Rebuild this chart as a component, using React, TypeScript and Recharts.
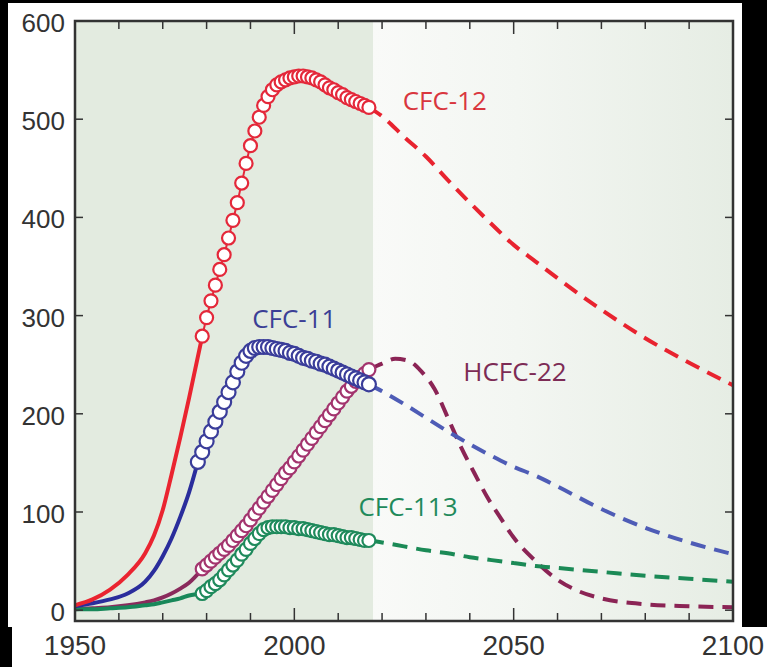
import React from 'react';
import { ComposedChart, Line, XAxis, YAxis, ReferenceArea, ReferenceDot } from 'recharts';

// years before the flask record (line only)
const histYears = [1950, 1954, 1958, 1962, 1966, 1968, 1970, 1972, 1974, 1976];
const cfc12Hist = [5, 11, 21, 36, 58, 76, 102, 138, 176, 216];
const cfc11Hist = [4, 7, 11, 17, 29, 40, 55, 73, 95, 120];
const hcfc22Hist = [1, 2, 3, 5, 8, 10, 13, 17, 22, 28];
const cfc113Hist = [1, 1, 2, 3, 5, 6, 8, 10, 12, 15];

// observations (circles)
const obsYears = [
  1978, 1979, 1980, 1981, 1982, 1983, 1984, 1985, 1986, 1987,
  1988, 1989, 1990, 1991, 1992, 1993, 1994, 1995, 1996, 1997,
  1998, 1999, 2000, 2001, 2002, 2003, 2004, 2005, 2006, 2007,
  2008, 2009, 2010, 2011, 2012, 2013, 2014, 2015, 2016, 2017,
];
const cfc11Obs = [
  151, 161, 172, 182, 192, 202, 212, 222, 232, 243,
  252, 259, 264, 267, 268, 268, 268, 267, 266, 265,
  264, 262, 261, 259, 257, 256, 254, 253, 251, 250,
  248, 246, 244, 242, 240, 238, 236, 234, 232, 230,
];
// these three start in 1979
const cfc12Obs = [
  279, 298, 315, 331, 347, 362, 379, 397, 415,
  435, 455, 473, 488, 502, 514, 523, 530, 535, 538,
  540, 542, 543, 544, 544, 543, 542, 540, 538, 535,
  532, 530, 527, 525, 522, 520, 518, 516, 514, 512,
];
const hcfc22Obs = [
  42, 46, 50, 54, 58, 62, 66, 71, 76,
  81, 86, 92, 98, 104, 110, 116, 122, 128, 134,
  140, 145, 151, 157, 163, 169, 175, 181, 187, 193,
  199, 205, 211, 217, 223, 228, 233, 237, 241, 245,
];
const cfc113Obs = [
  17, 20, 24, 27, 31, 36, 41, 46, 51,
  57, 62, 68, 73, 78, 82, 84, 85, 85, 85,
  85, 84, 84, 83, 83, 82, 81, 80, 79, 78,
  77, 77, 76, 75, 74, 74, 73, 72, 71, 71,
];

// projections (dashed)
const projYears = [2020, 2025, 2030, 2035, 2040, 2045, 2050, 2055, 2060, 2070, 2080, 2090, 2100];
const cfc12Proj = [503, 482, 462, 438, 415, 393, 372, 355, 338, 306, 277, 252, 229];
const cfc11Proj = [223, 210, 196, 182, 169, 157, 146, 137, 126, 103, 84, 69, 57];
const cfc113Proj = [69, 65, 61, 58, 54, 51, 48, 45, 43, 39, 35, 32, 29];
const hcfc22ProjYears = [2020, 2023, 2026, 2029, 2032, 2035, 2038, 2041, 2044, 2047, 2050, 2055, 2060, 2065, 2070, 2080, 2090, 2100];
const hcfc22Proj = [251, 256, 254, 243, 225, 196, 166, 140, 115, 94, 74, 50, 31, 19, 12, 6, 4, 3];

const xTicks = [1950, 1960, 1970, 1980, 1990, 2000, 2010, 2020, 2030, 2040, 2050, 2060, 2070, 2080, 2090, 2100];
const yTicks = [0, 100, 200, 300, 400, 500, 600];

const pts = (years: number[], vals: number[]) => years.map((year, i) => ({ year, v: vals[i] }));

const series = [
  { name: 'HCFC-22', line: '#8a2a5c', dot: '#a3346e', dash: '#8b2455', r: 6.5, hist: hcfc22Hist, obs: hcfc22Obs, obsYears: obsYears.slice(1), projYears: hcfc22ProjYears, proj: hcfc22Proj },
  { name: 'CFC-113', line: '#18885a', dot: '#1f8a5c', dash: '#1b8a56', r: 6.5, hist: cfc113Hist, obs: cfc113Obs, obsYears: obsYears.slice(1), projYears, proj: cfc113Proj },
  { name: 'CFC-11', line: '#2a2d9c', dot: '#3a3d9a', dash: '#4e5cb6', r: 7, hist: cfc11Hist, obs: cfc11Obs, obsYears, projYears, proj: cfc11Proj },
  { name: 'CFC-12', line: '#ea2430', dot: '#e4283a', dash: '#e8232f', r: 6.5, hist: cfc12Hist, obs: cfc12Obs, obsYears: obsYears.slice(1), projYears, proj: cfc12Proj },
];

const tickFont = 'Liberation Sans, Arial, sans-serif';
const labelFont = 'Open Sans, sans-serif';

// plot box, same as the chart margins + axis sizes below
const PLOT = { left: 75, top: 21, width: 658, height: 600 };
const X_DOMAIN = [1950, 2100];
const Y_DOMAIN = [-11, 600];
const px = (year: number) => PLOT.left + ((year - X_DOMAIN[0]) / (X_DOMAIN[1] - X_DOMAIN[0])) * PLOT.width;
const py = (v: number) => PLOT.top + ((Y_DOMAIN[1] - v) / (Y_DOMAIN[1] - Y_DOMAIN[0])) * PLOT.height;

const BottomLabel = ({ x, y, payload }: any) =>
  payload.value % 50 === 0 ? (
    <text x={x} y={y + 34} textAnchor="middle" fontSize={28} fill="#333333" fontFamily={tickFont}>
      {payload.value}
    </text>
  ) : (
    <g />
  );

const LeftLabel = ({ x, y, payload }: any) => (
  <text x={x - 10} y={y + 11} textAnchor="end" fontSize={26} fill="#333333" fontFamily={tickFont}>
    {payload.value}
  </text>
);

// frame with inward ticks, laid over the chart
function Frame() {
  const c = '#333333';
  return (
    <svg width={767} height={667} style={{ position: 'absolute', left: 0, top: 0, pointerEvents: 'none' }}>
      <rect x={PLOT.left} y={PLOT.top} width={PLOT.width} height={PLOT.height} fill="none" stroke={c} strokeWidth={2.5} />
      {xTicks.map((t) => {
        const len = t % 50 === 0 ? 13 : 8;
        return (
          <g key={'x' + t}>
            <line x1={px(t)} x2={px(t)} y1={PLOT.top} y2={PLOT.top + len} stroke={c} strokeWidth={1.5} />
            <line x1={px(t)} x2={px(t)} y1={PLOT.top + PLOT.height} y2={PLOT.top + PLOT.height - len} stroke={c} strokeWidth={1.5} />
          </g>
        );
      })}
      {yTicks.map((t) => (
        <g key={'y' + t}>
          <line x1={PLOT.left} x2={PLOT.left + 8} y1={py(t)} y2={py(t)} stroke={c} strokeWidth={1.5} />
          <line x1={PLOT.left + PLOT.width} x2={PLOT.left + PLOT.width - 8} y1={py(t)} y2={py(t)} stroke={c} strokeWidth={1.5} />
        </g>
      ))}
    </svg>
  );
}

export default function App() {
  return (
    <div style={{ position: 'absolute', left: 0, top: 0, width: 767, height: 667, background: '#000' }}>
      <div style={{ position: 'absolute', left: 8, top: 3, width: 734, height: 624, background: '#fff' }} />
      <div style={{ position: 'absolute', left: 12, top: 627, width: 755, height: 40, background: '#fff' }} />
      <div style={{ position: 'absolute', left: 0, top: 0 }}>
        <ComposedChart width={767} height={667} margin={{ top: 21, right: 34, bottom: 0, left: 0 }}>
          <defs>
            <linearGradient id="futureBg" x1="0" y1="0" x2="1" y2="0">
              <stop offset="0%" stopColor="#f9faf8" />
              <stop offset="40%" stopColor="#f3f6f2" />
              <stop offset="100%" stopColor="#e6ede4" />
            </linearGradient>
          </defs>
          {/* shaded background: observed period / projection period */}
          <ReferenceArea x1={1950} x2={2018} y1={-11} y2={600} fill="#e3ebe0" fillOpacity={1} stroke="none" />
          <ReferenceArea x1={2018} x2={2100} y1={-11} y2={600} fill="url(#futureBg)" fillOpacity={1} stroke="none" />

          <XAxis type="number" dataKey="year" domain={X_DOMAIN} allowDataOverflow ticks={xTicks} interval={0}
            height={46} tickSize={0} tickMargin={0} axisLine={false} tickLine={false} tick={<BottomLabel />} />
          <YAxis type="number" domain={Y_DOMAIN} allowDataOverflow ticks={yTicks} interval={0}
            width={75} tickSize={0} tickMargin={0} axisLine={false} tickLine={false} tick={<LeftLabel />} />

          {series.map((s) => (
            <Line key={s.name + 'p'} data={pts([s.obsYears[s.obsYears.length - 1], ...s.projYears], [s.obs[s.obs.length - 1], ...s.proj])}
              dataKey="v" type="monotone" stroke={s.dash} strokeWidth={4} strokeDasharray="15 9" dot={false} isAnimationActive={false} />
          ))}
          {series.map((s) => (
            <Line key={s.name + 'h'} data={pts([...histYears, s.obsYears[0]], [...s.hist, s.obs[0]])}
              dataKey="v" type="monotone" stroke={s.line} strokeWidth={4} dot={false} isAnimationActive={false} />
          ))}
          {series.map((s) => (
            <Line key={s.name + 'o'} data={pts(s.obsYears, s.obs)} dataKey="v" type="monotone" stroke={s.dot} strokeWidth={2}
              dot={{ r: s.r, fill: '#fff', stroke: s.dot, strokeWidth: 2.2 }} isAnimationActive={false} />
          ))}

          <ReferenceDot x={2034.3} y={519} r={0} fill="none" stroke="none"
            label={{ value: 'CFC-12', position: 'center', fill: '#d9363e', fontSize: 26, fontFamily: labelFont }} />
          <ReferenceDot x={2000} y={297} r={0} fill="none" stroke="none"
            label={{ value: 'CFC-11', position: 'center', fill: '#3b3f96', fontSize: 26, fontFamily: labelFont }} />
          <ReferenceDot x={2050.3} y={243} r={0} fill="none" stroke="none"
            label={{ value: 'HCFC-22', position: 'center', fill: '#7d2b55', fontSize: 26, fontFamily: labelFont }} />
          <ReferenceDot x={2025.9} y={105} r={0} fill="none" stroke="none"
            label={{ value: 'CFC-113', position: 'center', fill: '#1f8a5b', fontSize: 26, fontFamily: labelFont }} />
        </ComposedChart>
      </div>
      <Frame />
    </div>
  );
}
